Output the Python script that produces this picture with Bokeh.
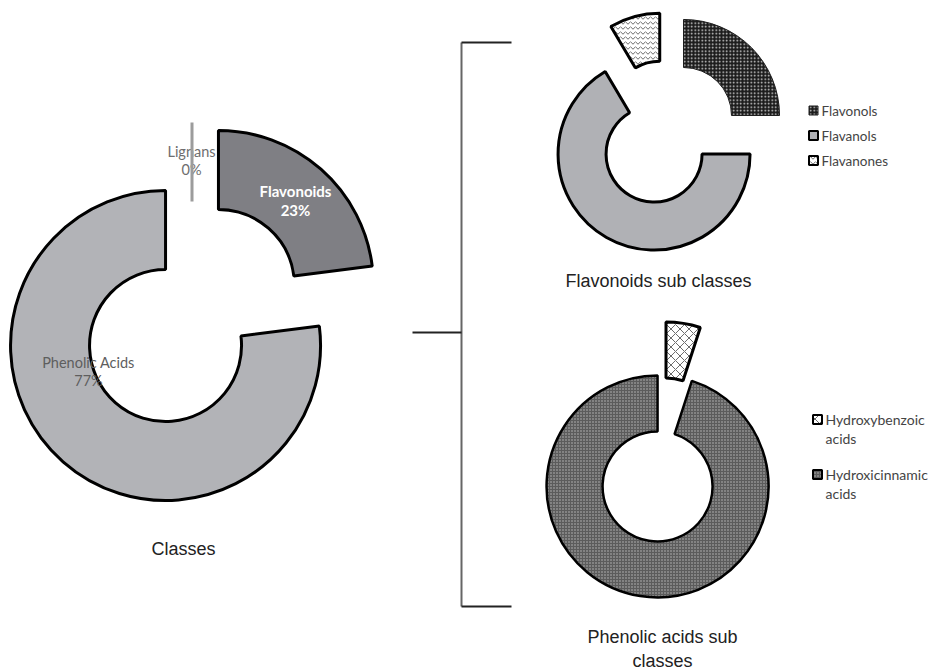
import math
from bokeh.plotting import figure
from bokeh.models import Range1d
from bokeh.embed import file_html
from bokeh.resources import INLINE
from bokeh.core.properties import value

W, H = 931, 669

# ---------------- data ----------------
class_labels = ["Flavonoids", "Phenolic Acids", "Lignans"]
class_values = [23, 77, 0]
class_pct = ["23%", "77%", "0%"]

flav_labels = ["Flavonols", "Flavanols", "Flavanones"]
flav_values = [25, 66.5, 8.5]

phen_labels = ["Hydroxybenzoic", "Hydroxicinnamic"]
phen_labels2 = ["acids", "acids"]
phen_values = [5, 95]

titles = ["Classes", "Flavonoids sub classes", "Phenolic acids sub", "classes"]

# ---------------- helpers ----------------
def sy(y):
    return H - y


def slices(values, cx, cy, explode):
    """Excel-style: start at 12 o'clock, clockwise; cx, cy in screen px."""
    total = float(sum(values))
    out = []
    acc = 0.0
    for i, v in enumerate(values):
        t1 = acc / total * 2 * math.pi
        acc += v
        t2 = acc / total * 2 * math.pi
        tm = (t1 + t2) / 2
        d = explode[i]
        x = cx + d * math.sin(tm)
        y = sy(cy) + d * math.cos(tm)
        out.append(dict(x=x, y=y, start=math.pi / 2 - t2, end=math.pi / 2 - t1, v=v, t1=t1))
    return out


p = figure(width=W, height=H, x_range=Range1d(0, W), y_range=Range1d(0, H),
           output_backend="svg", toolbar_location=None, min_border=0,
           x_axis_location=None, y_axis_location=None)
p.grid.visible = False
p.outline_line_color = None
p.background_fill_color = "white"

FONT_LBL = value("Lato")
FONT_TTL = value("Liberation Sans")


def wedge(s, r_in, r_out, **kw):
    p.annular_wedge(x=[s["x"]], y=[s["y"]], inner_radius=r_in, outer_radius=r_out,
                    start_angle=[s["start"]], end_angle=[s["end"]], **kw)


# ---------------- left donut: classes ----------------
R1, r1 = 155, 76
cls = slices(class_values, 191.5, 315, [40, 40, 38])
cls_style = [
    dict(fill_color="#7f7f84", line_color="black", line_width=3),
    dict(fill_color="#b2b3b7", line_color="black", line_width=3),
]
for i, s in enumerate(cls):
    if s["v"] > 0:
        wedge(s, r1, R1, **cls_style[i])

# labels
p.text(x=[191, 191], y=[sy(151), sy(169)], text=[class_labels[2], class_pct[2]], text_font=FONT_LBL,
       text_font_size=value("14.5px"), text_color="#6e6e6e", text_align="center", text_baseline="middle")

# zero slice drawn as a radial line
for s in cls:
    if s["v"] == 0:
        a = math.pi / 2 - s["t1"]
        p.segment(x0=[s["x"] + r1 * math.cos(a)], y0=[s["y"] + r1 * math.sin(a)],
                  x1=[s["x"] + R1 * math.cos(a)], y1=[s["y"] + R1 * math.sin(a)],
                  line_color="#9c9c9c", line_width=3)

p.text(x=[295, 295], y=[sy(190), sy(209)], text=[class_labels[0], class_pct[0]], text_font=FONT_LBL,
       text_font_size=value("15px"), text_font_style="bold", text_color="white",
       text_align="center", text_baseline="middle")
p.text(x=[88, 88], y=[sy(362), sy(380)], text=[class_labels[1], class_pct[1]], text_font=FONT_LBL,
       text_font_size=value("14.5px"), text_color="#5e5e5e",
       text_align="center", text_baseline="middle")

# ---------------- top-right donut: flavonoids ----------------
R2, r2 = 96, 48
fl = slices(flav_values, 665.7, 132.3, [24.5, 24.5, 24.5])
fl_style = [
    dict(fill_color="#1c1c1c", line_color="#1c1c1c", line_width=1,
         hatch_pattern="dot", hatch_color="#d8d8d8", hatch_scale=3.5, hatch_weight=1),
    dict(fill_color="#b0b1b5", line_color="black", line_width=3),
    dict(fill_color="white", line_color="black", line_width=3,
         hatch_pattern="horizontal_wave", hatch_color="#444444", hatch_scale=5, hatch_weight=0.8),
]
for i, s in enumerate(fl):
    wedge(s, r2, R2, **fl_style[i])

leg_y = [110, 135, 160]
for i in range(3):
    p.rect(x=[813], y=[sy(leg_y[i])], width=9, height=9,
           **{k: v for k, v in fl_style[i].items() if k != "line_width"},
           line_width=2 if i > 0 else 1)
p.text(x=[821] * 3, y=[sy(v) for v in leg_y], text=flav_labels, text_font=FONT_LBL,
       text_font_size=value("13.5px"), text_color="#444444", text_align="left", text_baseline="middle")

# ---------------- bottom-right donut: phenolic acids ----------------
R3, r3 = 111, 55
ph = slices(phen_values, 658, 480, [48, 6])
ph_style = [
    dict(fill_color="white", line_color="black", line_width=3,
         hatch_pattern="diagonal_cross", hatch_color="#444444", hatch_scale=9, hatch_weight=0.8),
    dict(fill_color="#5c5c5c", line_color="black", line_width=2.5,
         hatch_pattern="dot", hatch_color="#bdbdbd", hatch_scale=3, hatch_weight=0.8),
]
for i, s in enumerate(ph):
    wedge(s, r3, R3, **ph_style[i])

leg2_y = [419, 474]
for i in range(2):
    p.rect(x=[817], y=[sy(leg2_y[i])], width=9, height=9,
           **{k: v for k, v in ph_style[i].items() if k != "line_width"}, line_width=2)
p.text(x=[825] * 2, y=[sy(v) for v in leg2_y], text=phen_labels, text_font=FONT_LBL,
       text_font_size=value("14px"), text_color="#444444", text_align="left", text_baseline="middle")
p.text(x=[825] * 2, y=[sy(v + 19) for v in leg2_y], text=phen_labels2, text_font=FONT_LBL,
       text_font_size=value("14px"), text_color="#444444", text_align="left", text_baseline="middle")

# ---------------- bracket ----------------
p.segment(x0=[461], y0=[sy(42)], x1=[461], y1=[sy(606)], line_color="#666666", line_width=2)
p.segment(x0=[461, 461, 412], y0=[sy(42), sy(606), sy(332)],
          x1=[511, 511, 461], y1=[sy(42), sy(606), sy(332)], line_color="#222222", line_width=1.8)

# ---------------- titles ----------------
p.text(x=[183, 658, 662, 662], y=[sy(548), sy(280), sy(636), sy(660)], text=titles,
       text_font=FONT_TTL, text_font_size=value("18px"), text_color="#222222",
       text_align="center", text_baseline="middle")

open("out.html", "w").write(file_html(p, INLINE))
